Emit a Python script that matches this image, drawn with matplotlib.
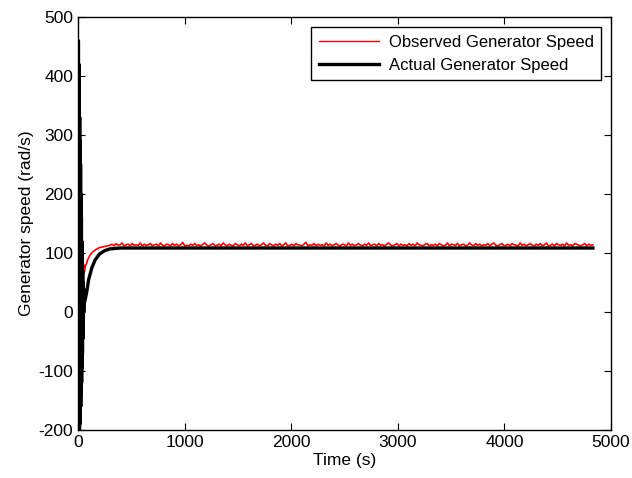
import numpy as np
import matplotlib
matplotlib.use("Agg")
import matplotlib.pyplot as plt

plt.rcParams["font.family"] = ["Liberation Sans", "DejaVu Sans"]
plt.rcParams["axes.unicode_minus"] = False

# actual generator speed: start-up oscillation, then rise to steady state
actual_t = [0, 2, 4, 6, 8, 10, 12, 14, 16, 18, 20, 22, 24, 26, 28, 30, 32, 34, 36, 38,
            40, 42, 44, 46, 48, 50, 52, 54, 56,
            60, 80, 100, 130, 160, 200, 250, 300, 400, 4830]
actual_v = [450, -210, 460, -210, 420, -205, 380, -200, 330, -190, 290, -180, 250, -160, 200, -140,
            160, -120, 120, -95, 90, -70, 70, -45, 50, -20, 40, 0, 25,
            15, 32, 55, 75, 88, 98, 104, 107, 108.5, 108.5]

# observed generator speed: transient part
obs_t = [0, 3, 6, 9, 12, 15, 18, 21, 25, 30, 35, 40, 45, 50, 55, 60, 70, 80, 90, 100,
         120, 140, 170, 200, 250]
obs_v = [500, 150, 430, 120, 250, 90, 160, 80, 140, 75, 110, 70, 95, 62, 80, 68, 78, 82, 88, 92,
         98, 102, 106, 109, 111]

# observed generator speed: steady ripple samples from 300 s to 4830 s
obs_ripple = [
    113, 115, 112, 116, 113, 114, 117, 112, 114, 115, 112, 116, 113, 114, 113, 117, 112, 115, 113, 114,
    116, 112, 114, 115, 112, 117, 113, 112, 115, 114, 112, 116, 113, 115, 112, 114, 118, 112, 113, 112,
    115, 113, 116, 112, 114, 112, 115, 117, 113, 112, 114, 116, 112, 113, 115, 112, 117, 114, 112, 115,
    113, 112, 116, 114, 112, 115, 113, 117, 112, 114, 116, 112, 113, 115, 112, 114, 117, 113, 112, 116,
    114, 112, 115, 113, 116, 112, 114, 117, 112, 113, 115, 112, 116, 114, 113, 112, 115, 118, 112, 114,
    113, 116, 112, 115, 113, 114, 112, 117, 113, 115, 112, 114, 116, 113, 112, 115, 114, 112, 117, 113,
    115, 112, 114, 116, 113, 112, 115, 113, 117, 112, 114, 115, 112, 116, 113, 114, 112, 115, 117, 113,
    112, 114, 116, 112, 115, 113, 114, 112, 116, 113, 115, 112, 117, 114, 113, 112, 115, 116, 112, 114,
    113, 115, 112, 116, 114, 112, 113, 117, 112, 115, 114, 113, 116, 112, 114, 115, 112, 113, 117, 114,
    112, 116, 113, 115, 112, 114, 113, 116, 112, 115, 117, 113, 112, 114, 116, 112, 113, 115, 112, 116,
    114, 113, 112, 117, 113, 115, 112, 114, 116, 113, 112, 115, 113, 116, 112, 114, 117, 112, 113, 115,
    112, 116, 114, 113, 115, 112, 117, 113, 114, 112, 116, 115, 113, 112, 114, 116, 112, 115, 113, 114,
]
ripple_t = np.linspace(300, 4830, len(obs_ripple))

fig = plt.figure(figsize=(6.32, 4.78), dpi=100)
ax = fig.add_axes([0.1234, 0.1004, 0.8434, 0.864])

ax.plot(list(obs_t) + list(ripple_t), obs_v + obs_ripple, color="red", lw=1.2,
        label="Observed Generator Speed")
ax.plot(actual_t, actual_v, color="black", lw=2.4, label="Actual Generator Speed")

ax.set_xlim(0, 5000)
ax.set_ylim(-200, 500)
ax.set_xticks(range(0, 5001, 1000))
ax.set_yticks(range(-200, 501, 100))
ax.tick_params(direction="in", top=True, right=True, labelsize=12.5, length=5)
for s in ax.spines.values():
    s.set_linewidth(1)
ax.set_xlabel("Time (s)", fontsize=12.5, labelpad=2)
ax.set_ylabel("Generator speed (rad/s)", fontsize=12.5, labelpad=3)

leg = ax.legend(loc="upper right", fontsize=12, fancybox=False, framealpha=1,
                edgecolor="black", borderaxespad=0.6, handlelength=3.6,
                borderpad=0.45, labelspacing=0.5, handletextpad=0.6)
leg.get_frame().set_linewidth(1)
for line in leg.get_lines():
    line.set_linewidth(1 if line.get_color() == "red" else 2.4)

fig.savefig("out.png", dpi=100)
